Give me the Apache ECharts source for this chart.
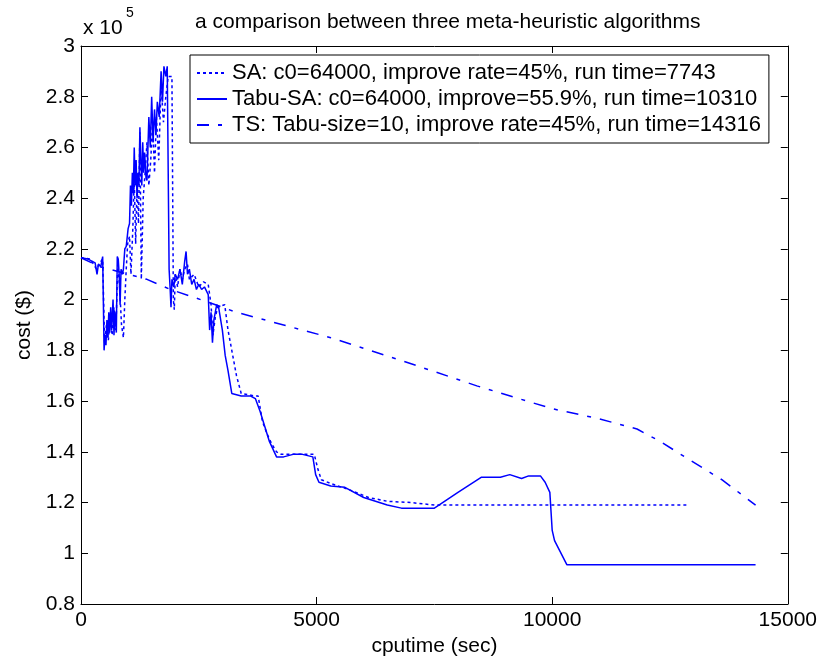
<!DOCTYPE html>
<html>
<head>
<meta charset="utf-8">
<script src="https://cdn.jsdelivr.net/npm/echarts@6/dist/echarts.min.js"></script>
<style>
  html, body { margin: 0; padding: 0; background: #fff; }
  #chart { width: 820px; height: 664px; }
</style>
</head>
<body>
<div id="chart"></div>
<script>
// cost values are in units of 1e5 $
var saTime = [0, 200, 330, 380, 460, 500, 540, 580, 620, 660, 700, 740, 780, 820, 860, 900, 930, 960, 990, 1030, 1060, 1100, 1130, 1160, 1190, 1220, 1250, 1280, 1320, 1360, 1400, 1440, 1480, 1520, 1560, 1600, 1650, 1700, 1750, 1800, 1850, 1930, 1960, 1980, 2000, 2050, 2100, 2150, 2200, 2260, 2300, 2400, 2500, 2600, 2700, 2760, 2800, 2850, 2900, 3050, 3120, 3200, 3300, 3400, 3700, 3760, 3850, 3950, 4050, 4150, 4250, 4700, 4950, 5030, 5100, 5300, 5700, 6100, 6500, 7000, 7500, 12900];
var saCost = [2.165, 2.16, 2.12, 2.14, 2.16, 1.83, 1.90, 1.84, 1.93, 1.86, 1.97, 1.88, 2.14, 2.05, 1.90, 1.85, 2.00, 2.12, 2.22, 2.25, 2.10, 2.28, 2.48, 2.22, 2.46, 2.30, 2.66, 2.08, 2.40, 2.50, 2.62, 2.45, 2.55, 2.70, 2.50, 2.72, 2.55, 2.85, 2.70, 2.80, 2.88, 2.88, 2.00, 1.96, 2.10, 2.05, 2.12, 2.08, 2.12, 2.14, 2.08, 2.10, 2.05, 2.07, 2.06, 1.98, 1.86, 1.93, 1.97, 1.98, 1.88, 1.80, 1.70, 1.63, 1.62, 1.62, 1.52, 1.47, 1.43, 1.40, 1.39, 1.39, 1.39, 1.33, 1.29, 1.275, 1.25, 1.22, 1.205, 1.20, 1.19, 1.19];

var tabuTime = [0, 150, 300, 340, 370, 420, 460, 480, 490, 510, 530, 550, 570, 590, 610, 630, 650, 680, 700, 720, 750, 770, 790, 810, 830, 850, 880, 900, 930, 960, 1000, 1030, 1050, 1070, 1090, 1110, 1130, 1150, 1170, 1190, 1210, 1230, 1250, 1270, 1290, 1310, 1330, 1350, 1380, 1400, 1440, 1470, 1500, 1530, 1560, 1590, 1620, 1660, 1700, 1730, 1760, 1800, 1830, 1860, 1870, 1890, 1910, 1930, 1970, 2000, 2050, 2100, 2150, 2200, 2230, 2260, 2300, 2350, 2400, 2450, 2500, 2560, 2620, 2700, 2730, 2760, 2790, 2820, 2880, 2920, 3000, 3060, 3120, 3200, 3400, 3600, 3700, 3800, 3900, 4000, 4150, 4300, 4500, 4700, 4920, 4980, 5050, 5300, 5600, 6000, 6500, 6800, 7000, 7500, 8000, 8500, 8900, 9100, 9350, 9500, 9750, 9850, 9950, 10000, 10050, 10310, 14316];
var tabuCost = [2.165, 2.16, 2.145, 2.10, 2.14, 2.13, 2.17, 2.17, 1.80, 1.86, 1.82, 1.92, 1.85, 1.95, 1.87, 1.97, 1.88, 2.00, 1.86, 1.95, 1.87, 2.17, 2.16, 2.10, 1.98, 2.12, 2.10, 2.12, 2.20, 2.21, 2.28, 2.30, 2.45, 2.37, 2.50, 2.42, 2.60, 2.45, 2.55, 2.40, 2.50, 2.45, 2.68, 2.55, 2.45, 2.62, 2.50, 2.58, 2.48, 2.47, 2.72, 2.60, 2.80, 2.62, 2.75, 2.65, 2.78, 2.72, 2.90, 2.78, 2.92, 2.88, 2.92, 2.92, 2.12, 2.05, 1.97, 2.08, 2.05, 2.10, 2.08, 2.12, 2.06, 2.15, 2.19, 2.10, 2.12, 2.06, 2.08, 2.04, 2.06, 2.04, 2.05, 2.02, 1.88, 1.95, 1.83, 1.92, 1.98, 1.97, 1.88, 1.78, 1.72, 1.63, 1.62, 1.62, 1.61, 1.56, 1.50, 1.44, 1.38, 1.38, 1.39, 1.39, 1.38, 1.31, 1.28, 1.265, 1.26, 1.22, 1.19, 1.178, 1.178, 1.178, 1.24, 1.30, 1.30, 1.31, 1.295, 1.305, 1.305, 1.28, 1.24, 1.09, 1.05, 0.955, 0.955];

var tsTime = [0, 400, 1400, 1900, 2700, 3300, 4300, 5300, 6800, 8400, 10000, 11000, 11800, 12300, 12900, 13600, 14316];
var tsCost = [2.165, 2.13, 2.08, 2.04, 1.99, 1.95, 1.90, 1.85, 1.76, 1.66, 1.57, 1.53, 1.49, 1.44, 1.37, 1.29, 1.19];

var seriesNames = [
  'SA: c0=64000, improve rate=45%, run time=7743',
  'Tabu-SA: c0=64000, improve=55.9%, run time=10310',
  'TS: Tabu-size=10, improve rate=45%, run time=14316'
];
var xTicks = [0, 5000, 10000, 15000];
var yTicks = [0.8, 1, 1.2, 1.4, 1.6, 1.8, 2, 2.2, 2.4, 2.6, 2.8, 3];

function zip(a, b) {
  var out = [];
  for (var i = 0; i < a.length; i++) out.push([a[i], b[i]]);
  return out;
}

var FONT = 'Liberation Sans';
var FS = 21;
var BLUE = '#0000ff';

var chart = echarts.init(document.getElementById('chart'));

var frameAxis = {
  axisLine: { show: true, onZero: false, lineStyle: { color: '#000', width: 1 } },
  axisTick: { show: true, inside: true, length: 7, lineStyle: { color: '#000' } },
  splitLine: { show: false }
};

chart.setOption({
  animation: false,
  backgroundColor: '#fff',
  textStyle: { fontFamily: FONT },
  title: {
    text: 'a comparison between three meta-heuristic algorithms',
    left: 190,
    top: 7,
    textStyle: { fontFamily: FONT, fontSize: FS, fontWeight: 'normal', color: '#000' }
  },
  graphic: [
    { type: 'text', left: 83, top: 18, style: { text: 'x 10', font: FS + 'px ' + FONT, fill: '#000' } },
    { type: 'text', left: 126, top: 6, style: { text: '5', font: '14px ' + FONT, fill: '#000' } }
  ],
  legend: {
    orient: 'vertical',
    left: 190,
    top: 55,
    padding: [7, 8, 7, 6],
    itemGap: 4,
    itemWidth: 30,
    itemHeight: 22,
    backgroundColor: '#fff',
    borderColor: '#000',
    borderWidth: 1,
    borderRadius: 0,
    itemStyle: { opacity: 0 },
    textStyle: { fontFamily: FONT, fontSize: 22, color: '#000' },
    data: seriesNames
  },
  grid: { left: 81, right: 29, top: 46, bottom: 60 },
  xAxis: [
    Object.assign({}, frameAxis, {
      type: 'value', min: 0, max: 15000, interval: 5000, position: 'bottom',
      name: 'cputime (sec)', nameLocation: 'middle', nameGap: 29,
      nameTextStyle: { fontFamily: FONT, fontSize: FS, color: '#000' },
      axisLabel: {
        color: '#000', fontSize: FS, fontFamily: FONT, margin: 6,
        formatter: function (v) { return String(v); }
      }
    }),
    Object.assign({}, frameAxis, {
      type: 'value', min: 0, max: 15000, interval: 5000, position: 'top',
      axisLabel: { show: false }
    })
  ],
  yAxis: [
    Object.assign({}, frameAxis, {
      type: 'value', min: 0.8, max: 3, interval: 0.2, position: 'left',
      name: 'cost ($)', nameLocation: 'middle', nameGap: 42,
      nameTextStyle: { fontFamily: FONT, fontSize: FS, color: '#000' },
      axisLabel: {
        color: '#000', fontSize: FS, fontFamily: FONT, margin: 6,
        formatter: function (v) { return String(+v.toFixed(1)); }
      }
    }),
    Object.assign({}, frameAxis, {
      type: 'value', min: 0.8, max: 3, interval: 0.2, position: 'right',
      axisLabel: { show: false }
    })
  ],
  series: [
    {
      name: seriesNames[0], type: 'line', xAxisIndex: 0, yAxisIndex: 0,
      data: zip(saTime, saCost), symbol: 'none',
      lineStyle: { color: BLUE, width: 1.5, type: [3, 3] },
      itemStyle: { color: BLUE }
    },
    {
      name: seriesNames[1], type: 'line', xAxisIndex: 0, yAxisIndex: 0,
      data: zip(tabuTime, tabuCost), symbol: 'none',
      lineStyle: { color: BLUE, width: 1.5, type: 'solid' },
      itemStyle: { color: BLUE }
    },
    {
      name: seriesNames[2], type: 'line', xAxisIndex: 0, yAxisIndex: 0,
      data: zip(tsTime, tsCost), symbol: 'none',
      lineStyle: { color: BLUE, width: 1.5, type: [12, 9, 4, 9] },
      itemStyle: { color: BLUE }
    }
  ]
});
</script>
</body>
</html>
